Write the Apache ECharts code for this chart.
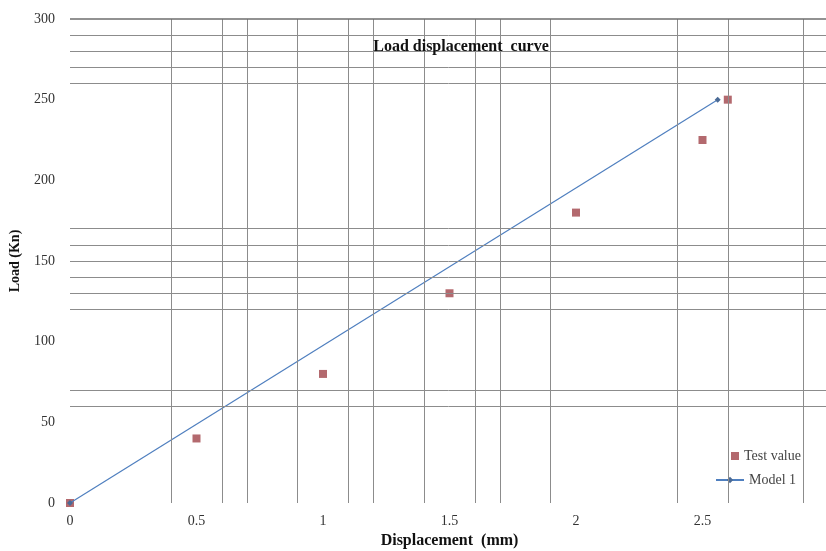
<!DOCTYPE html>
<html>
<head>
<meta charset="utf-8">
<script src="https://cdn.jsdelivr.net/npm/echarts@6/dist/echarts.min.js"></script>
<style>
  html, body { margin: 0; padding: 0; background: #fff; }
  #chart { width: 826px; height: 551px; }
</style>
</head>
<body>
<div id="chart"></div>
<script>
// Measured test points: displacement (mm), load (kN)
const testDisp = [0, 0.5, 1, 1.5, 2, 2.5, 2.6];
const testLoad = [0, 40, 80, 130, 180, 225, 250];

// Model 1 prediction
const modelDisp = [0, 2.56];
const modelLoad = [0, 250];

// Gridline positions
const xGridLines = [0.4, 0.6, 0.7, 0.9, 1.1, 1.2, 1.4, 1.6, 1.7, 1.9, 2.4, 2.6, 2.9];
const yGridLines = [60, 70, 120, 130, 140, 150, 160, 170, 260, 270, 280, 290, 300];

const SERIF = "'Liberation Serif', 'DejaVu Serif', serif";

const pair = (xs, ys) => xs.map((x, i) => [x, ys[i]]);

const gridMarks = [
  ...xGridLines.map(v => ({ xAxis: v })),
  ...yGridLines.map(v => ({ yAxis: v, lineStyle: v === 300 ? { color: '#6e6e6e', width: 1.5 } : undefined }))
];

const legendText = { fontFamily: SERIF, fontSize: 14, color: '#444' };

const chart = echarts.init(document.getElementById('chart'), null, { renderer: 'canvas' });
chart.setOption({
  animation: false,
  backgroundColor: '#ffffff',
  title: {
    text: 'Load displacement  curve',
    left: 456,
    top: 34,
    textAlign: 'center',
    textStyle: { fontFamily: SERIF, fontSize: 16, fontWeight: 'bold', color: '#111' }
  },
  legend: [
    {
      data: [{ name: 'Test value', icon: 'rect' }],
      left: 726,
      top: 444,
      itemWidth: 8,
      itemHeight: 8,
      itemGap: 0,
      textStyle: legendText
    },
    {
      data: ['Model 1'],
      left: 710,
      top: 468,
      itemWidth: 28,
      itemHeight: 8,
      textStyle: legendText
    }
  ],
  grid: { left: 70, right: -3, top: 19, bottom: 48, containLabel: false, outerBoundsMode: 'none' },
  xAxis: {
    type: 'value',
    min: 0, max: 3, interval: 0.5,
    name: 'Displacement  (mm)',
    nameLocation: 'middle',
    nameGap: 28,
    nameTextStyle: { fontFamily: SERIF, fontSize: 16, fontWeight: 'bold', color: '#111' },
    axisLine: { show: false },
    axisTick: { show: false },
    splitLine: { show: false },
    axisLabel: { fontFamily: SERIF, fontSize: 14, color: '#333', margin: 11 }
  },
  yAxis: {
    type: 'value',
    min: 0, max: 300, interval: 50,
    name: 'Load (Kn)',
    nameLocation: 'middle',
    nameGap: 48,
    nameTextStyle: { fontFamily: SERIF, fontSize: 14, fontWeight: 'bold', color: '#111' },
    axisLine: { show: false },
    axisTick: { show: false },
    splitLine: { show: false },
    axisLabel: { fontFamily: SERIF, fontSize: 14, color: '#333', margin: 15 }
  },
  series: [
    {
      name: 'grid',
      type: 'line',
      data: [],
      silent: true,
      z: 1,
      markLine: {
        silent: true,
        symbol: ['none', 'none'],
        label: { show: false },
        animation: false,
        lineStyle: { color: '#8c8c8c', width: 1, type: 'solid' },
        data: gridMarks
      }
    },
    {
      name: 'Test value',
      type: 'scatter',
      symbol: 'rect',
      symbolSize: 8,
      itemStyle: { color: '#a0434a' },
      z: 3,
      data: pair(testDisp, testLoad)
    },
    {
      name: 'Model 1',
      type: 'line',
      symbol: 'diamond',
      symbolSize: 6,
      showSymbol: true,
      lineStyle: { color: '#4f7fbf', width: 1.2 },
      itemStyle: { color: '#4a6a96' },
      z: 4,
      data: pair(modelDisp, modelLoad)
    }
  ]
});
</script>
</body>
</html>
